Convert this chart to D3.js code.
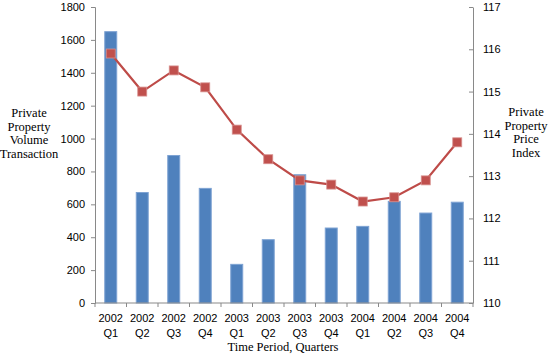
<!DOCTYPE html>
<html><head><meta charset="utf-8">
<script src="https://cdn.jsdelivr.net/npm/d3@7"></script>
<style>body{margin:0;background:#fff}svg{display:block}</style>
</head><body>
<svg id="c" width="553" height="357"></svg>
<script>
const years = ["2002","2002","2002","2002","2003","2003","2003","2003","2004","2004","2004","2004"];
const quarters = ["Q1","Q2","Q3","Q4","Q1","Q2","Q3","Q4","Q1","Q2","Q3","Q4"];
const volume = [1650,672,897,697,235,385,780,456,466,618,547,613];
const priceIndex = [115.9,115.0,115.5,115.1,114.1,113.4,112.9,112.8,112.4,112.5,112.9,113.8];
const leftTicks = [0,200,400,600,800,1000,1200,1400,1600,1800];
const rightTicks = [110,111,112,113,114,115,116,117];

const svg = d3.select("#c");
const L = 95, R = 473, T = 7, B = 303;
const idx = d3.range(years.length);
const x = d3.scaleBand().domain(idx).range([L, R]).paddingInner(0.62).paddingOuter(0.31);
const yL = d3.scaleLinear().domain([0,1800]).range([B,T]);
const yR = d3.scaleLinear().domain([110,117]).range([B,T]);
const grey = "#898989";
const tickFont = "'Liberation Sans', Arial, sans-serif";
const serif = "'Liberation Serif', 'Times New Roman', serif";
const fs = 11;

// bars
svg.append("g").selectAll("rect").data(idx).join("rect")
  .attr("x", i => x(i)).attr("width", x.bandwidth())
  .attr("y", i => yL(volume[i])).attr("height", i => B - yL(volume[i]))
  .attr("fill", "#4F81BD").attr("stroke", "#7EA3D3").attr("stroke-width", 1);

// left axis
const gl = svg.append("g").attr("transform", `translate(${L},0)`)
  .call(d3.axisLeft(yL).tickValues(leftTicks).tickSize(4).tickPadding(6).tickFormat(d3.format("d")));
gl.select(".domain").attr("stroke", grey);
gl.selectAll(".tick line").attr("stroke", grey);
gl.selectAll("text").attr("font-family", tickFont).attr("font-size", fs).attr("fill", "#000");

// right axis
const gr = svg.append("g").attr("transform", `translate(${R},0)`)
  .call(d3.axisRight(yR).tickValues(rightTicks).tickSize(0).tickPadding(10).tickFormat(d3.format("d")));
gr.select(".domain").attr("stroke", grey);
gr.selectAll(".tick").append("line").attr("x1", -4).attr("x2", 0).attr("stroke", grey);
gr.selectAll("text").attr("font-family", tickFont).attr("font-size", fs).attr("fill", "#000");

// x axis
const gx = svg.append("g");
gx.append("line").attr("x1", L).attr("x2", R).attr("y1", B).attr("y2", B).attr("stroke", grey);
gx.selectAll("line.tk").data(d3.range(years.length + 1)).join("line").attr("class","tk")
  .attr("x1", i => L + i * (R - L) / years.length).attr("x2", i => L + i * (R - L) / years.length)
  .attr("y1", B).attr("y2", B + 4).attr("stroke", grey);
const cx = i => x(i) + x.bandwidth() / 2;
gx.selectAll("text.yr").data(idx).join("text").attr("class","yr")
  .attr("x", cx).attr("y", 322).attr("text-anchor","middle")
  .attr("font-family", tickFont).attr("font-size", fs).text(i => years[i]);
gx.selectAll("text.q").data(idx).join("text").attr("class","q")
  .attr("x", cx).attr("y", 337).attr("text-anchor","middle")
  .attr("font-family", tickFont).attr("font-size", fs).text(i => quarters[i]);

// line
const line = d3.line().x(i => cx(i)).y(i => yR(priceIndex[i]));
svg.append("path").datum(idx).attr("d", line).attr("fill","none")
  .attr("stroke", "#BE4B48").attr("stroke-width", 2.2);
svg.append("g").selectAll("rect").data(idx).join("rect")
  .attr("x", i => cx(i) - 4.5).attr("y", i => yR(priceIndex[i]) - 4.5)
  .attr("width", 9).attr("height", 9)
  .attr("fill", "#C0504D").attr("stroke", "#D8908E").attr("stroke-width", 0.8);

// titles
function multi(lines, xx, y0, lh) {
  const t = svg.append("text").attr("font-family", serif).attr("font-size", 12.5)
    .attr("text-anchor", "middle");
  lines.forEach((s, k) => t.append("tspan").attr("x", xx).attr("y", y0 + k * lh).text(s));
}
multi(["Private","Property","Volume","Transaction"], 29, 117, 13.5);
multi(["Private","Property","Price","Index"], 526, 116, 13.5);
svg.append("text").attr("x", 283).attr("y", 351).attr("text-anchor","middle")
  .attr("font-family", serif).attr("font-size", 12.5).text("Time Period, Quarters");
</script>
</body></html>
